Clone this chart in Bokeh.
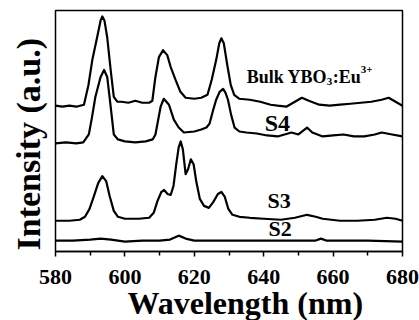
from bokeh.plotting import figure
from bokeh.models import Range1d, FixedTicker, Label, Title
from bokeh.embed import file_html
from bokeh.resources import INLINE

# ---- data (intensity in arbitrary units) ----
wl_ticks = [580, 600, 620, 640, 660, 680]
wl_minor = [590, 610, 630, 650, 670]

bulk_wl = [580, 582, 584, 586, 588.2, 589.5, 590.6, 592, 593, 593.5, 594.1, 594.9, 595.9,
           596.8, 597.8, 599, 601, 603, 605, 607, 607.9, 608.8, 609.8, 611, 612.2, 613.2,
           614.6, 616, 617.5, 620, 622, 623.8, 625, 626.3, 627.2, 627.8, 628.5, 629.5,
           630.5, 631.5, 633, 636, 639, 642, 644, 646.5, 649, 651, 653, 656, 659, 662,
           665, 668, 671, 674, 676, 678, 680]
bulk_int = [147, 146, 147, 146, 148, 168, 193, 216, 233, 237, 233, 216, 183,
            156, 151, 151, 150, 152, 150, 150, 152, 176, 196, 203, 198, 186,
            173, 161, 155, 154, 155, 158, 173, 193, 210, 215, 210, 188,
            168, 158, 154, 153, 151, 148, 147, 146, 151, 155, 152, 148, 147, 148,
            149, 150, 151, 153, 155, 151, 147]

s4_wl = [580, 583, 586, 588, 589.6, 590.5, 591.5, 593, 594, 594.9, 595.9, 596.8, 598,
         600, 603, 606, 608, 608.8, 609.5, 610.3, 611.2, 612.7, 614.1, 615.5, 617, 620,
         622, 623.5, 624.4, 625.3, 626.3, 627.3, 628.3, 629, 629.7, 630.6, 631.6, 633,
         635, 638, 641, 644, 646, 648, 650, 652.5, 654, 657, 660, 663, 666, 669, 672,
         674, 677, 680]
s4_int = [109, 110, 109, 110, 118, 135, 156, 176, 183, 176, 146, 118, 113,
          111, 110, 111, 113, 118, 131, 146, 154, 148, 133, 125, 120, 121,
          123, 125, 129, 141, 153, 161, 164, 160, 153, 138, 125, 121,
          120, 119, 117, 116, 118, 120, 118, 125, 120, 116, 117, 118, 116, 116, 118,
          120, 118, 116]

s3_wl = [580, 584, 587, 588.5, 589.8, 591, 592.3, 593.5, 594.6, 595.6, 596.8, 598, 600,
         604, 607, 608.3, 609.4, 610.5, 611.3, 612.3, 613.2, 614, 614.8, 615.5, 616.1,
         616.7, 617.5, 618.2, 619, 619.8, 620.6, 621.6, 622.8, 624.2, 625.5, 626.8,
         627.8, 628.8, 629.8, 631, 633, 636, 640, 645, 649, 652.5, 655, 657, 662, 667,
         672, 675.5, 678, 680]
s3_int = [31, 31, 32, 35, 43, 55, 69, 76, 71, 56, 41, 35, 33,
          33, 34, 39, 51, 60, 62, 58, 57, 66, 88, 105, 111,
          103, 78, 83, 93, 88, 70, 53, 46, 44, 50, 58,
          60, 55, 43, 37, 35, 34, 33, 32, 34, 37, 35, 33, 31, 31,
          32, 34, 33, 31]

s2_wl = [580, 585, 590, 593, 596, 600, 605, 610, 613, 615.5, 617.5, 620, 630, 640,
         650, 655, 656.5, 658, 670, 680]
s2_int = [11, 11, 12, 13, 12, 10, 11, 11, 12, 16, 13, 11, 11, 11,
          11, 11, 13, 11, 11, 10]

FONT = "Liberation Serif"

p = figure(width=419, height=320, output_backend="svg", toolbar_location=None,
           x_range=Range1d(580, 680), y_range=Range1d(0, 243),
           min_border_left=55, min_border_right=17, min_border_top=10,
           min_border_bottom=67)

p.background_fill_color = "white"
p.border_fill_color = "white"
p.outline_line_color = "black"
p.outline_line_width = 1.5
p.xgrid.visible = False
p.ygrid.visible = False
p.yaxis.visible = False

ax = p.xaxis[0]
ax.ticker = FixedTicker(ticks=wl_ticks, minor_ticks=wl_minor)
ax.axis_line_color = "black"
ax.axis_line_width = 1.5
ax.major_tick_line_color = "black"
ax.major_tick_line_width = 1.5
ax.major_tick_in = 0
ax.major_tick_out = 5
ax.minor_tick_line_color = "black"
ax.minor_tick_line_width = 1.5
ax.minor_tick_in = 0
ax.minor_tick_out = 4
ax.major_label_text_font = FONT
ax.major_label_text_font_style = "bold"
ax.major_label_text_font_size = "22px"
ax.major_label_text_color = "black"
ax.major_label_standoff = 13

for xs, ys in [(bulk_wl, bulk_int), (s4_wl, s4_int), (s3_wl, s3_int), (s2_wl, s2_int)]:
    p.line(xs, ys, line_color="black", line_width=2.2, line_join="round")


def lab(text, x, y, size, x_offset=0):
    p.add_layout(Label(x=x, y=y, x_offset=x_offset, text=text, text_font=FONT,
                       text_font_style="bold", text_font_size=size,
                       text_color="black", text_align="left",
                       text_baseline="alphabetic"))

# curve labels
lab("Bulk YBO", 635.1, 176, "18px")
lab("3", 635.1, 171, "11px", x_offset=80)
lab(":Eu", 635.1, 176, "18px", x_offset=86)
lab("3+", 635.1, 184, "11px", x_offset=114)
lab("S4", 640.3, 130, "24px")
lab("S3", 641.1, 51, "22px")
lab("S2", 641.4, 23, "22px")

# axis titles
p.add_layout(Title(text="Wavelength (nm)", align="left", offset=72, standoff=-4,
                   vertical_align="top",
                   text_font=FONT, text_font_style="bold", text_font_size="32px",
                   text_color="black"), "below")
p.add_layout(Title(text="Intensity (a.u.)", align="left", offset=1, standoff=13,
                   vertical_align="top",
                   text_font=FONT, text_font_style="bold", text_font_size="34px",
                   text_color="black"), "left")

open("out.html", "w").write(file_html(p, INLINE))
